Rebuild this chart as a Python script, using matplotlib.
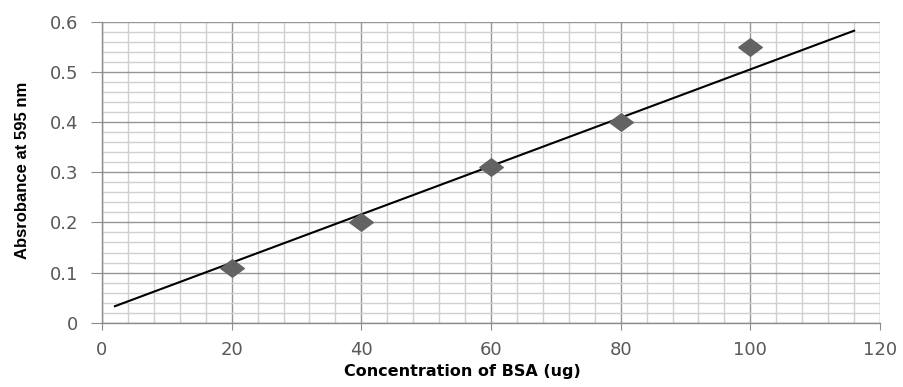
import matplotlib.pyplot as plt
from matplotlib.ticker import MultipleLocator

conc = [20, 40, 60, 80, 100]
absorbance = [0.11, 0.20, 0.31, 0.40, 0.55]

# trendline endpoints
trend_x = [2, 116]
trend_y = [0.033, 0.582]

fig = plt.figure(figsize=(9.04, 3.87), dpi=100)
ax = fig.add_axes([0.1128, 0.166, 0.8607, 0.778])

ax.set_xlim(0, 120)
ax.set_ylim(0, 0.6)
ax.xaxis.set_major_locator(MultipleLocator(20))
ax.xaxis.set_minor_locator(MultipleLocator(4))
ax.yaxis.set_major_locator(MultipleLocator(0.1))
ax.yaxis.set_minor_locator(MultipleLocator(0.02))

ax.grid(which='minor', color='#d0d0d0', linewidth=1.0)
ax.grid(which='major', color='#969696', linewidth=1.0)
ax.set_axisbelow(True)

for s in ['top', 'right']:
    ax.spines[s].set_visible(False)
for s in ['left', 'bottom']:
    ax.spines[s].set_color('#8c8c8c')
    ax.spines[s].set_linewidth(1.0)

ax.tick_params(which='major', direction='out', color='#8c8c8c',
               labelsize=13, labelcolor='#595959')
ax.tick_params(axis='x', which='major', length=5, pad=8)
ax.tick_params(axis='y', which='major', length=8, pad=9)
ax.tick_params(which='minor', length=0)
ax.set_yticks([0, 0.1, 0.2, 0.3, 0.4, 0.5, 0.6])
ax.set_yticklabels(['0', '0.1', '0.2', '0.3', '0.4', '0.5', '0.6'])

# diamond drawn a bit wider than tall, like the source
diamond = [(-1.35, 0), (0, 1), (1.35, 0), (0, -1), (-1.35, 0)]

ax.plot(trend_x, trend_y, color='black', linewidth=1.5, zorder=3)
ax.plot(conc, absorbance, linestyle='none', marker=diamond, markersize=17,
        color='#636363', zorder=4)

ax.set_xlabel('Concentration of BSA (ug)', fontsize=11.5, fontweight='bold')
ax.xaxis.set_label_coords((462 - 102) / 778, (322.7 - 364) / 301)
ax.set_ylabel('Absrobance at 595 nm', fontsize=12, fontweight='bold',
              family=['Liberation Sans', 'DejaVu Sans'])
ax.yaxis.set_label_coords(-0.0925, 0.507)

fig.savefig('out.png', dpi=100)
